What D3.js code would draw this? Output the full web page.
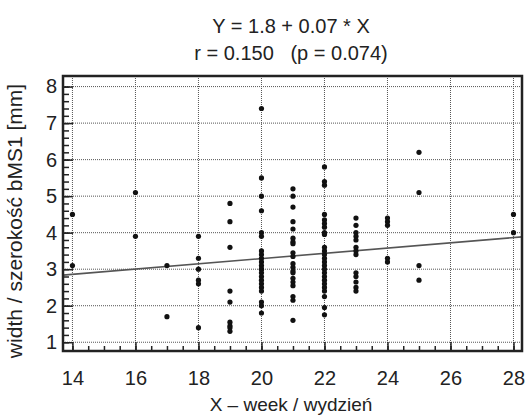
<!DOCTYPE html>
<meta charset="utf-8">
<style>
body { margin: 0; background: #fff; }
text { font-family: "Liberation Sans", Arial, sans-serif; fill: #222; }
.grid line { stroke: #555; stroke-dasharray: 1,1; stroke-width: 1; }
.axis path { display: none; }
.axis line { stroke: #222; stroke-width: 1.5; }
.axis text { font-size: 20px; }
</style>
<svg width="525" height="416"></svg>
<script src="https://d3js.org/d3.v7.min.js"></script>
<script>

// weeks and the widths measured at each week
var weeks = [14, 16, 17, 18, 19, 20, 21, 22, 23, 24, 25, 28];
var widths = [
  [4.5, 3.1],
  [5.1, 3.9],
  [3.1, 1.7],
  [3.9, 3.3, 3.0, 2.7, 2.6, 1.4],
  [4.8, 4.3, 3.6, 2.4, 2.1, 1.55, 1.45, 1.4, 1.3],
  [7.4, 5.5, 5.0, 4.6, 4.0, 3.9, 3.5, 3.4, 3.3, 3.2, 3.1, 3.0, 3.0, 2.9, 2.8, 2.7, 2.6, 2.5, 2.4, 2.1, 2.0, 1.8],
  [5.2, 5.0, 4.7, 4.3, 4.1, 3.85, 3.75, 3.7, 3.45, 3.35, 3.15, 3.05, 2.95, 2.9, 2.75, 2.65, 2.55, 2.25, 2.15, 1.6],
  [5.8, 5.4, 5.3, 4.5, 4.35, 4.25, 4.15, 4.0, 3.95, 3.6, 3.5, 3.4, 3.3, 3.2, 3.1, 3.0, 2.9, 2.8, 2.7, 2.6, 2.5, 2.4, 2.25, 1.95, 1.75],
  [4.4, 4.2, 4.0, 3.9, 3.8, 3.6, 3.5, 3.4, 2.9, 2.8, 2.65, 2.5, 2.4],
  [4.4, 4.3, 4.2, 3.3, 3.2],
  [6.2, 5.1, 3.1, 2.7],
  [4.5, 4.0]
];

var xTicks = [14, 16, 18, 20, 22, 24, 26, 28];
var yTicks = [1, 2, 3, 4, 5, 6, 7, 8];

var intercept = 1.85, slope = 0.072;
var titleLines = ["Y = 1.8 + 0.07 * X", "r = 0.150   (p = 0.074)"];
var xTitle = "X \u2013 week / wydzie\u0144";
var yTitle = "width / szeroko\u015b\u0107 bMS1 [mm]";

var svg = d3.select("svg");

var pL = 63, pR = 522, pT = 76, pB = 351;

var x = d3.scaleLinear().domain([13.7, 28.27]).range([pL, pR]);
var y = d3.scaleLinear().domain([0.76, 8.29]).range([pB, pT]);

var points = [];
weeks.forEach(function(w, i) {
  widths[i].forEach(function(v) { points.push({x: w, y: v}); });
});

// grid
var grid = svg.append("g").attr("class", "grid");
grid.selectAll(".gx").data(xTicks).enter().append("line")
    .attr("x1", function(d) { return x(d); }).attr("x2", function(d) { return x(d); })
    .attr("y1", pT).attr("y2", pB);
grid.selectAll(".gy").data(yTicks).enter().append("line")
    .attr("x1", pL).attr("x2", pR)
    .attr("y1", function(d) { return y(d); }).attr("y2", function(d) { return y(d); });

// minor ticks
svg.append("g")
    .attr("class", "axis")
    .attr("transform", "translate(0," + pB + ")")
    .call(d3.axisBottom(x).tickValues(d3.range(14, 28.01, 0.5)).tickSize(-5).tickFormat(""));
svg.append("g")
    .attr("class", "axis")
    .attr("transform", "translate(" + pL + ",0)")
    .call(d3.axisLeft(y).tickValues(d3.range(1, 8.01, 0.2)).tickSize(-6).tickFormat(""));

// major ticks + labels
svg.append("g")
    .attr("class", "axis")
    .attr("transform", "translate(0," + pB + ")")
    .call(d3.axisBottom(x).tickValues(xTicks).tickSize(-9).tickPadding(20));
svg.append("g")
    .attr("class", "axis")
    .attr("transform", "translate(" + pL + ",0)")
    .call(d3.axisLeft(y).tickValues(yTicks).tickSize(-10).tickPadding(6));

// regression line
svg.append("line")
    .attr("x1", x(13.7)).attr("y1", y(intercept + slope * 13.7))
    .attr("x2", x(28.27)).attr("y2", y(intercept + slope * 28.27))
    .attr("stroke", "#555").attr("stroke-width", 1.6);

// points
svg.append("g").selectAll("circle").data(points).enter().append("circle")
    .attr("cx", function(d) { return x(d.x); })
    .attr("cy", function(d) { return y(d.y); })
    .attr("r", 2.6)
    .attr("fill", "#111");

// frame
svg.append("rect")
    .attr("x", pL).attr("y", pT)
    .attr("width", pR - pL).attr("height", pB - pT)
    .attr("fill", "none").attr("stroke", "#222").attr("stroke-width", 2.5);

// titles
svg.selectAll(".title").data(titleLines).enter().append("text")
    .attr("x", 291).attr("y", function(d, i) { return 33 + i * 27; })
    .attr("text-anchor", "middle")
    .attr("font-size", 20)
    .style("white-space", "pre")
    .text(function(d) { return d; });

svg.append("text")
    .attr("x", 291).attr("y", 411)
    .attr("text-anchor", "middle")
    .attr("font-size", 19)
    .text(xTitle);

svg.append("text")
    .attr("transform", "translate(22,221) rotate(-90)")
    .attr("text-anchor", "middle")
    .attr("font-size", 21)
    .text(yTitle);

</script>
